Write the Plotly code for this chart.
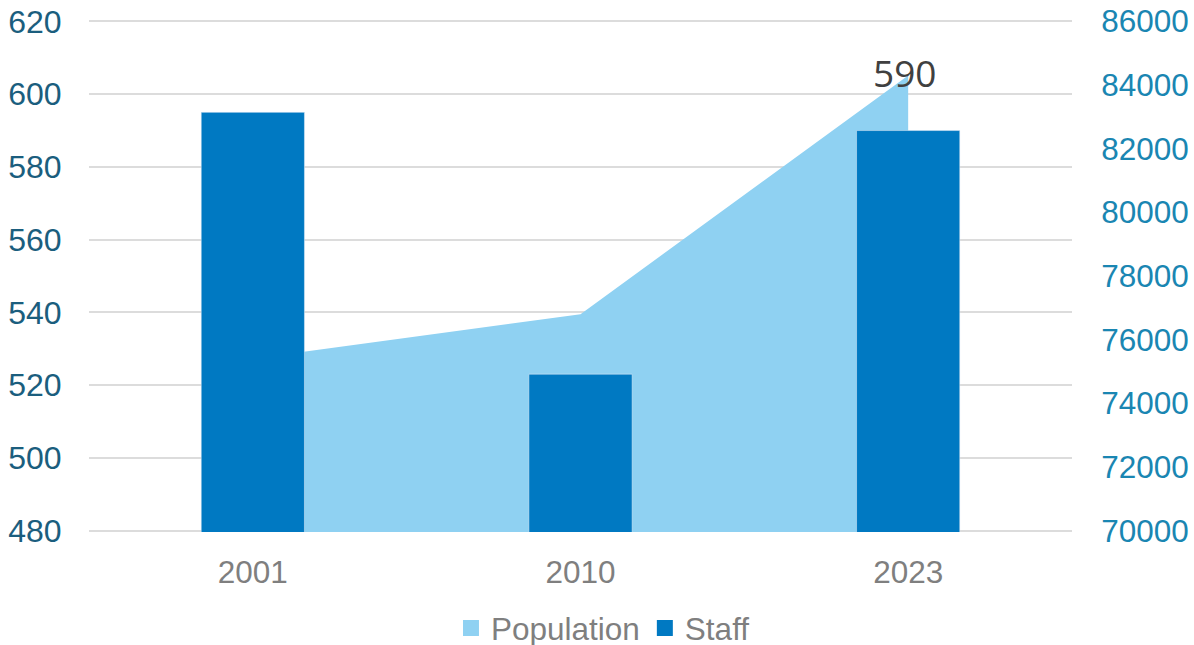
import plotly.graph_objects as go

years = ["2001", "2010", "2023"]
staff = [595, 523, 590]
population = [75400, 76800, 84300]
label_year = "2023"
label_text = "590"

BAR = "#0079C2"
AREA = "#8FD1F2"
LEFT = "#1B5E7E"
RIGHT = "#1A86B2"
GRID = "#DCDCDC"
FONT = "Liberation Sans, Arial, sans-serif"
FS = 31.5

# axis extents (small pad so edge gridlines are drawn)
S_MIN, S_MAX, PAD = 480, 620, 0.4
P_MIN, P_MAX = 70000, 86000
ppad = PAD * (P_MAX - P_MIN) / (S_MAX - S_MIN)

fig = go.Figure()

fig.add_trace(go.Scatter(
    x=years, y=population, mode="none", fill="tozeroy",
    fillcolor=AREA, yaxis="y", showlegend=False, name="Population",
))
fig.add_trace(go.Bar(
    x=years, y=staff, marker_color=BAR, width=0.315,
    yaxis="y2", showlegend=False, name="Staff",
))
# legend entries (square swatches)
for nm, col in (("Population", AREA), ("Staff", BAR)):
    fig.add_trace(go.Scatter(
        x=[None], y=[None], mode="markers", name=nm, yaxis="y2",
        marker=dict(symbol="square", size=16, color=col),
    ))

fig.add_annotation(
    x=years.index(label_year), y=staff[years.index(label_year)],
    xref="x", yref="y2", text=label_text,
    showarrow=False, yshift=58, xshift=-4, yanchor="middle",
    font=dict(family="Open Sans", size=37, color="#404040"),
)

fig.update_layout(
    width=1194, height=655,
    margin=dict(l=89, r=122, t=19.5, b=122.5, autoexpand=False),
    paper_bgcolor="white", plot_bgcolor="white",
    barmode="overlay",
    font=dict(family=FONT, size=FS),
    xaxis=dict(
        type="category", range=[-0.5, 2.5], showgrid=False,
        showline=False, zeroline=False, automargin=False,
        ticks="outside", ticklen=12, tickcolor="rgba(0,0,0,0)",
        tickfont=dict(family=FONT, size=FS, color="#7F7F7F"),
    ),
    yaxis=dict(
        side="right", range=[P_MIN - ppad, P_MAX + ppad], tick0=P_MIN, dtick=2000,
        tickformat="d", ticklabeloverflow="allow",
        showgrid=False, zeroline=False, showline=False, automargin=False,
        ticks="outside", ticklen=22, tickcolor="rgba(0,0,0,0)",
        tickfont=dict(family=FONT, size=FS, color=RIGHT),
    ),
    yaxis2=dict(
        side="left", overlaying="y", range=[S_MIN - PAD, S_MAX + PAD], tick0=S_MIN, dtick=20,
        ticklabeloverflow="allow",
        showgrid=True, gridcolor=GRID, gridwidth=1.5,
        zeroline=False, showline=False, automargin=False,
        ticks="outside", ticklen=20, tickcolor="rgba(0,0,0,0)",
        tickfont=dict(family=FONT, size=32, color=LEFT),
    ),
    legend=dict(
        orientation="h", xref="container", yref="container",
        x=0.505, xanchor="center", y=0.0, yanchor="bottom",
        font=dict(family=FONT, size=FS, color="#7F7F7F"),
        itemwidth=30, tracegroupgap=0,
    ),
)

fig.write_html(
    "out.html",
    config={"displayModeBar": False},
    post_script="document.body.style.margin='0';"
                "document.documentElement.style.overflow='hidden';"
                "document.body.style.overflow='hidden';",
)
